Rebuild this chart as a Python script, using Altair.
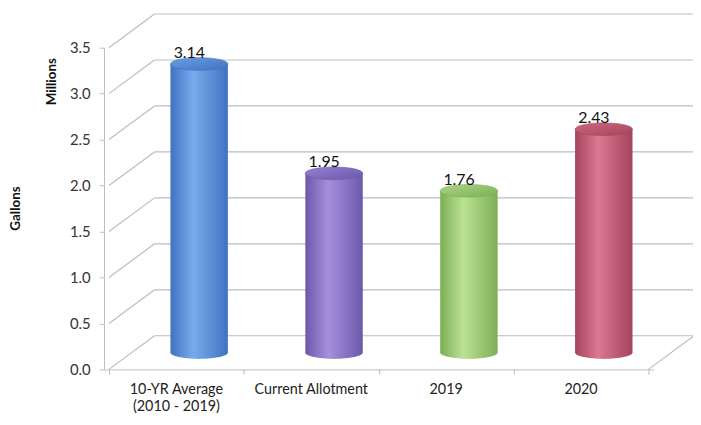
import altair as alt
import pandas as pd

categories = ["10-YR Average\n(2010 - 2019)", "Current Allotment", "2019", "2020"]
values = [3.14, 1.95, 1.76, 2.43]
value_labels = ["3.14", "1.95", "1.76", "2.43"]
y_ticks = [0.0, 0.5, 1.0, 1.5, 2.0, 2.5, 3.0, 3.5]
x_bounds = [0, 1, 2, 3, 4]

# cylinder colours: (edge, centre, top)
body_edge = ["#3f73c2", "#6c58ab", "#7cae55", "#a6445c"]
body_mid = ["#78abec", "#a690dd", "#bbe293", "#db7892"]
top_col = ["#6a9ee3", "#9481d2", "#acd685", "#cf6780"]

GC = "#b8bdc8"
FONT = "Lato"
DX, DY = 46, -34
HDX, HDY = 23, -17
BW = 58
ELL = "M -1 0 A 1 0.22 0 1 1 1 0 A 1 0.22 0 1 1 -1 0 Z"

xs = alt.Scale(domain=[0, 4], nice=False, zero=False)
ys = alt.Scale(domain=[0, 3.5], nice=False, zero=True)
xaxis = alt.Axis(values=x_bounds, labels=False, ticks=True, tickSize=5,
                 tickColor=GC, domainColor=GC, grid=False, title=None)
yaxis = alt.Axis(values=y_ticks, format=".1f", tickSize=5, tickColor=GC,
                 domainColor=GC, grid=False, title=None, labelPadding=9,
                 labelFontSize=15, labelFont=FONT, labelColor="#333333")


def X(f):
    return alt.X(f, type="quantitative", scale=xs, axis=xaxis)


def Y(f):
    return alt.Y(f, type="quantitative", scale=ys, axis=yaxis)


grid_df = pd.DataFrame({"v": y_ticks, "x0": [0] * len(y_ticks), "x1": [4] * len(y_ticks)})

diag = alt.Chart(grid_df).mark_rule(color=GC, strokeWidth=1.2, x2Offset=DX, y2Offset=DY).encode(
    x=X("x0"), x2="x0", y=Y("v"), y2="v")
back = alt.Chart(grid_df).mark_rule(color=GC, strokeWidth=1.2, xOffset=DX, x2Offset=DX,
                                    yOffset=DY).encode(x=X("x0"), x2="x1", y=Y("v"))
floor_df = pd.DataFrame({"x": [4], "v": [0.0]})
floor_r = alt.Chart(floor_df).mark_rule(color=GC, strokeWidth=1.2, x2Offset=DX, y2Offset=DY).encode(
    x=X("x"), x2="x", y=Y("v"), y2="v")

layers = [diag, back, floor_r]

for i, (c, v) in enumerate(zip(categories, values)):
    d = pd.DataFrame({"cat": [c], "xc": [i + 0.5], "v": [v], "zero": [0.0]})
    grad = {"gradient": "linear", "x1": 0, "x2": 1, "y1": 0, "y2": 0,
            "stops": [{"offset": 0, "color": body_edge[i]},
                      {"offset": 0.4, "color": body_mid[i]},
                      {"offset": 1, "color": body_edge[i]}]}
    tgrad = {"gradient": "linear", "x1": 0, "x2": 1, "y1": 0, "y2": 1,
             "stops": [{"offset": 0, "color": top_col[i]},
                       {"offset": 1, "color": body_edge[i]}]}
    bottom = alt.Chart(d).mark_point(shape=ELL, size=BW * BW, filled=True, fill=grad,
                                     opacity=1, strokeWidth=0, xOffset=HDX, yOffset=HDY).encode(
        x=X("xc"), y=Y("zero"))
    body = alt.Chart(d).mark_bar(width=BW, orient="vertical", fill=grad, xOffset=HDX,
                                 yOffset=HDY, y2Offset=HDY).encode(
        x=X("xc"), y=Y("v"), y2="zero")
    top = alt.Chart(d).mark_point(shape=ELL, size=BW * BW, filled=True, fill=tgrad,
                                  opacity=1, stroke=body_edge[i], strokeWidth=0.6,
                                  xOffset=HDX, yOffset=HDY).encode(
        x=X("xc"), y=Y("v"))
    layers += [bottom, body, top]

lab_df = pd.DataFrame({"xc": [i + 0.5 for i in range(4)], "v": values, "lab": value_labels,
                       "cat": categories, "zero": [0.0] * 4})
vlabels = alt.Chart(lab_df).mark_text(dx=13, dy=-23, baseline="alphabetic", fontSize=16,
                                      font=FONT, color="#111111").encode(
    x=X("xc"), y=Y("v"), text="lab:N")
xlabels = alt.Chart(lab_df).mark_text(baseline="top", dy=14, lineBreak="\n", lineHeight=17,
                                      fontSize=14.5, font=FONT, color="#222222").encode(
    x=X("xc"), y=Y("zero"), text="cat:N")

title_df = pd.DataFrame({"t": ["Millions", "Gallons"], "px": [-53, -89], "v": [3.13, 1.75]})
titles = alt.Chart(title_df).mark_text(angle=270, fontSize=13.5, fontWeight="bold", font=FONT,
                                       color="#111111", baseline="middle", align="center").encode(
    x=alt.X("px:Q", scale=None), y=Y("v"), text="t:N")

layers += [vlabels, xlabels, titles]

chart = alt.layer(*layers).properties(
    width=555, height=325,
    autosize=alt.AutoSizeParams(type="none"),
    padding={"left": 97, "top": 38, "right": 40, "bottom": 46},
    view=alt.ViewBackground(stroke="transparent", strokeWidth=0),
).configure_view(stroke="transparent", strokeWidth=0, strokeOpacity=0).configure(background="white")

chart.save("out.html", embed_options={"renderer": "svg", "actions": False})
